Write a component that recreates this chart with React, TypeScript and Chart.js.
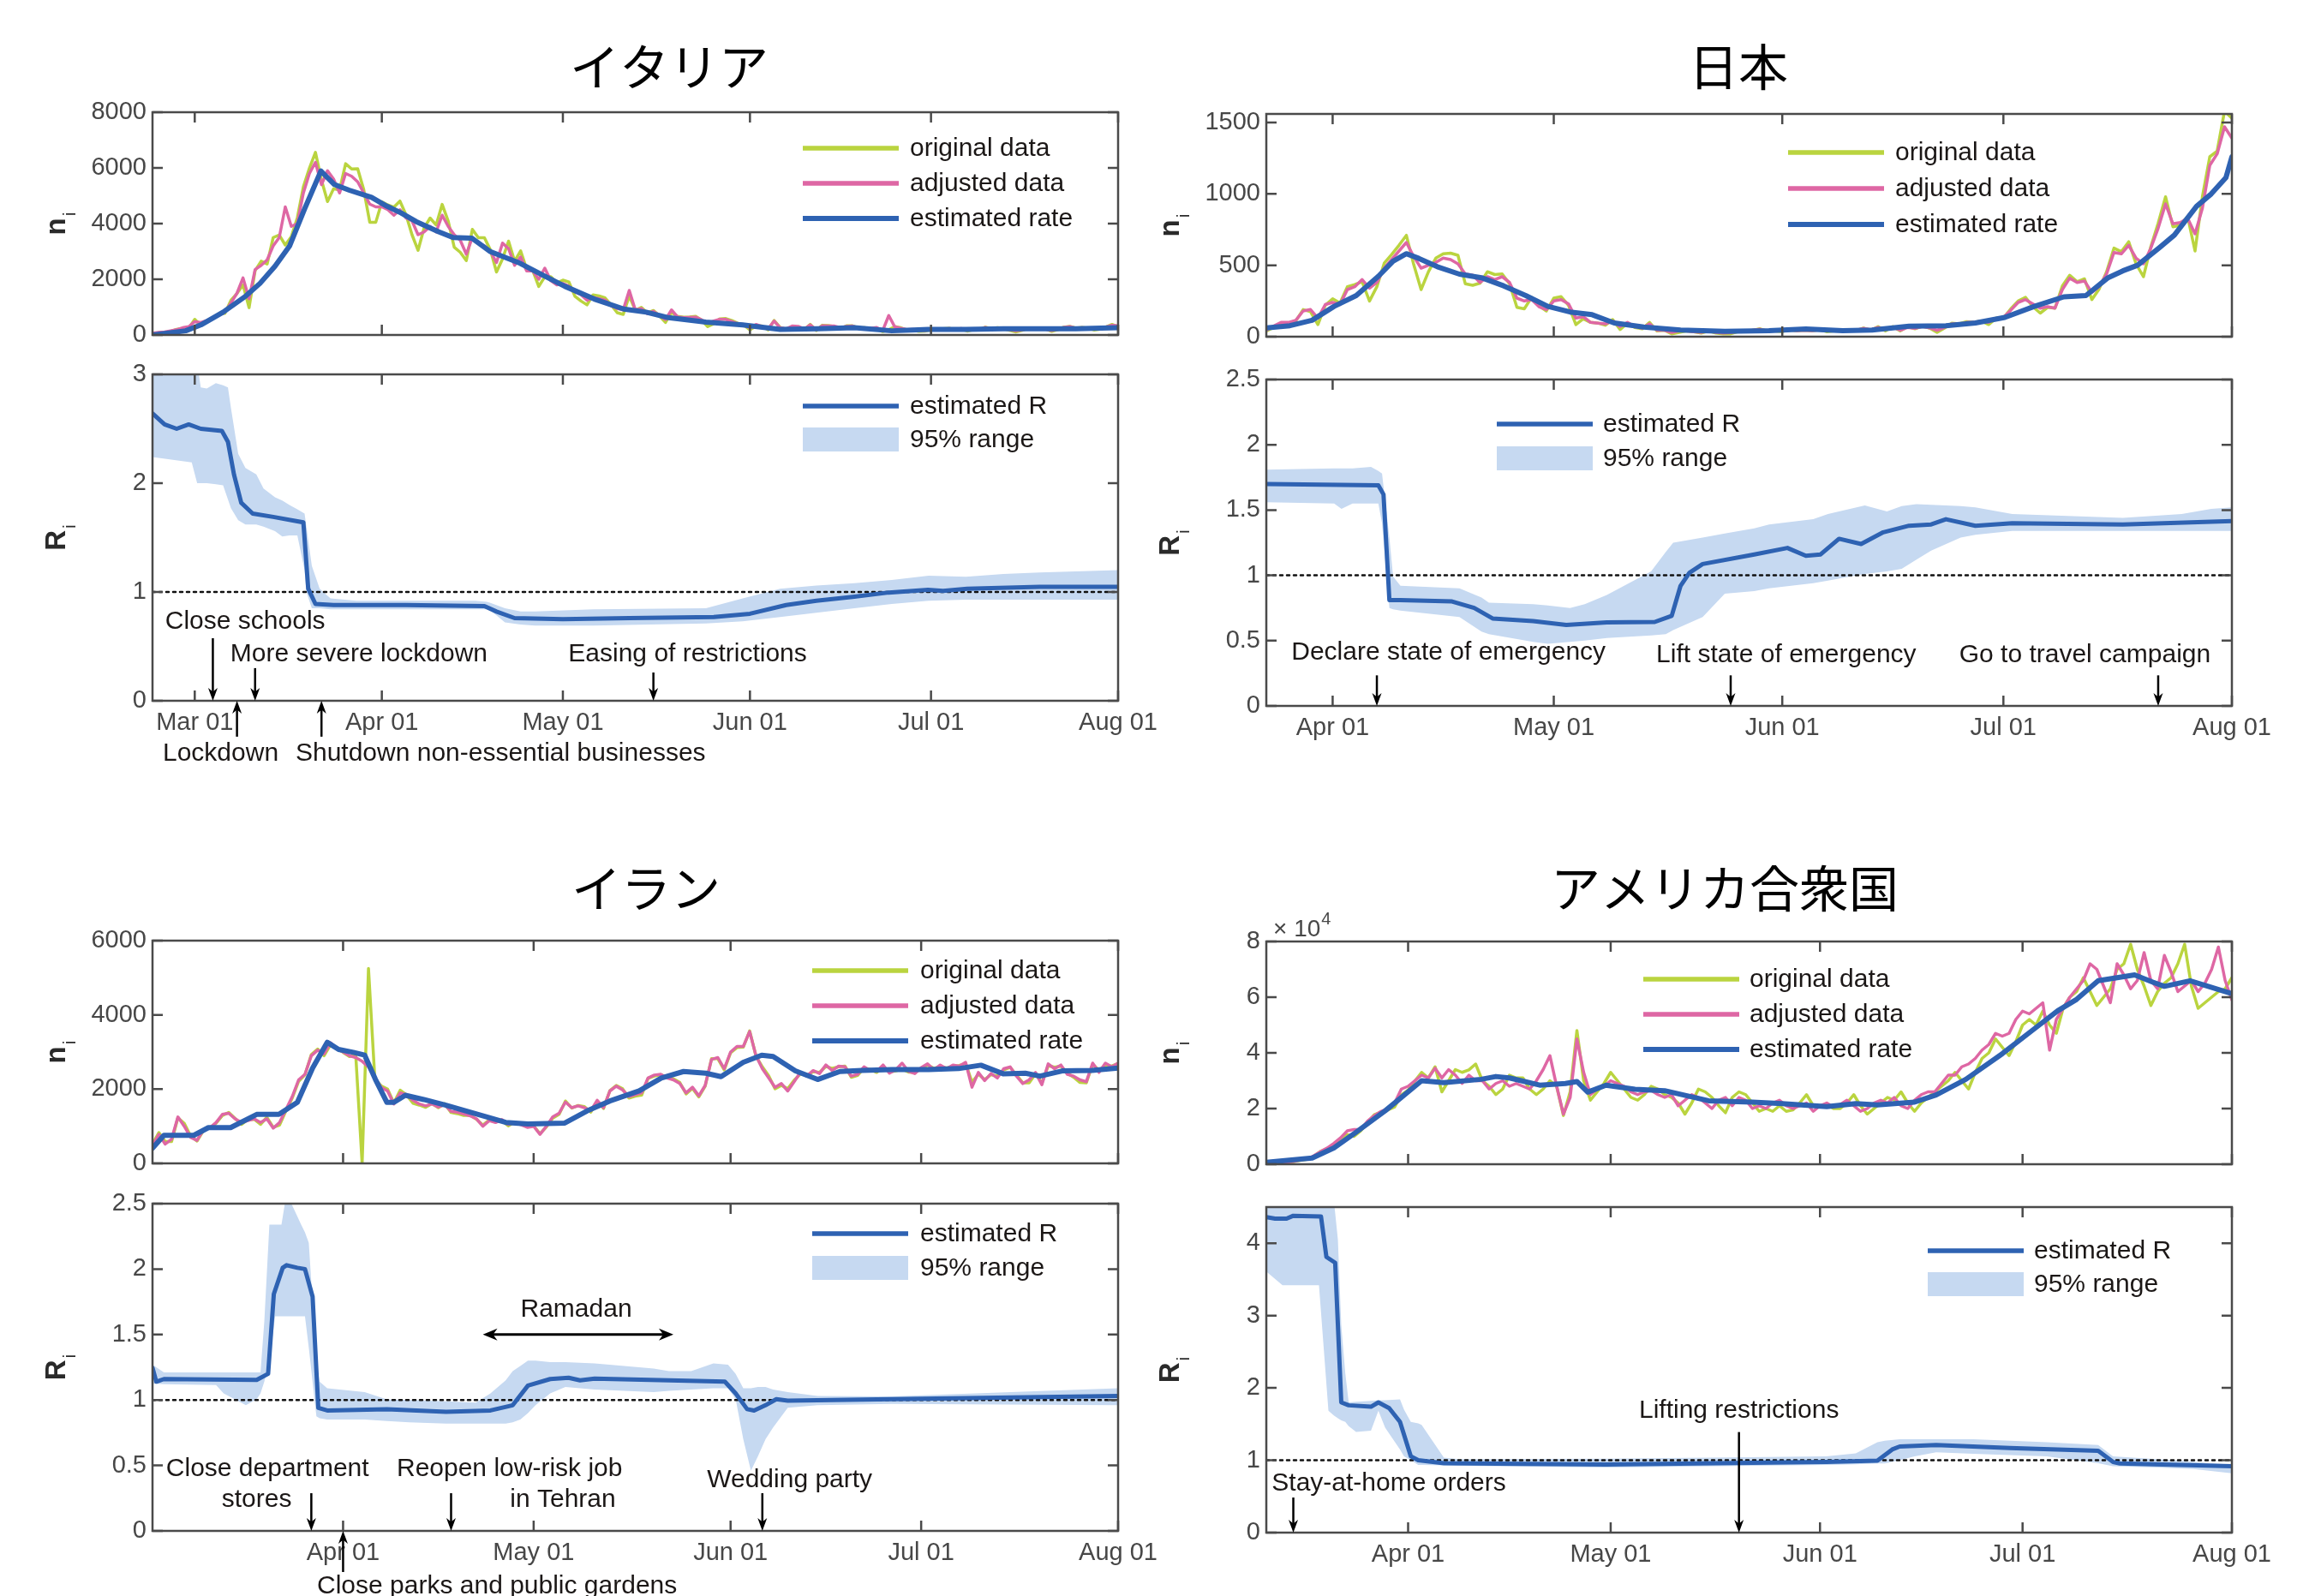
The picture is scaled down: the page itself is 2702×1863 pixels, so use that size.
import { useEffect, useRef } from "react";
import { Chart, registerables } from "chart.js";

Chart.register(...registerables);

const SANS = '"Liberation Sans", Arial, Helvetica, sans-serif';
const CJK = '"Noto Sans CJK JP", "Noto Sans CJK SC", sans-serif';
const GREEN = "#bad43f";
const PINK = "#de67a4";
const BLUE = "#2e62b2";
const BAND = "#c6d9f1";
const AXIS = "#4a4a4a";
const TEXT = "#1b1716";
const TICK_TEXT = "#474747";

// ---- x axis: days counted from 2020-03-01 ----
const MONTH_TICK_DAYS = [0, 31, 61, 92, 122, 153];
const MONTH_TICK_LABELS = ["Mar 01", "Apr 01", "May 01", "Jun 01", "Jul 01", "Aug 01"];

const SERIES_LABELS = ["original data", "adjusted data", "estimated rate"];
const R_LABELS = ["estimated R", "95% range"];

// ================= ITALY =================
const IT_START = -7;
const IT_ORIGINAL = [
  70, 80, 95, 125, 200, 240, 240,
  560, 340, 470, 590, 770, 780, 1250, 1490, 1800, 980, 2310, 2650, 2550, 3500, 3590, 3230, 3530, 4210, 5320, 5990, 6560, 5560, 4790, 5250, 5210, 6150, 5960, 5970, 5220, 4050, 4050,
  4780, 4670, 4590, 4810, 4320, 3600, 3040, 3840, 4200, 3950, 4690, 4090, 3150, 2970, 2670, 3790, 3490, 3490, 3050, 2260, 2730, 3370, 2650, 3020, 2360, 2320, 1740, 2090, 2090, 1870,
  1970, 1900, 1390, 1220, 1080, 1440, 1400, 1330, 1080, 800, 740, 1400, 890, 990, 790, 880, 680, 450, 810, 670, 640, 650, 670, 530, 300, 400, 580, 590, 520, 420, 360,
  180, 320, 320, 180, 520, 270, 200, 280, 280, 200, 380, 160, 350, 340, 300, 210, 330, 330, 250, 260, 220, 220, 120, 190, 300, 260, 180, 170, 130, 140,
  190, 200, 220, 240, 190, 210, 140, 190, 190, 280, 230, 260, 230, 170, 110, 160, 230, 230, 230, 220, 130, 190, 280, 310, 250, 270, 250, 180, 210, 290, 380,
  300,
];
const IT_ADJUSTED = [
  60, 90, 110, 150, 190, 260, 300,
  480, 450, 520, 620, 720, 820, 1150, 1500, 2050, 1300, 2350, 2500, 2700, 3200, 3500, 4600, 3900, 4000, 5100, 5800, 6200, 5400, 5900, 5600, 5100, 5800, 5700, 5500, 5100, 4700, 4600,
  4600, 4500, 4300, 4500, 4200, 4100, 3600, 3700, 3900, 3700, 4300, 3900, 3600, 3400, 2900, 3500, 3300, 3200, 3000, 2600, 3300, 3100, 2500, 2800, 2300, 2300, 2000, 2400, 1950, 1800,
  1850, 1750, 1550, 1450, 1250, 1350, 1300, 1250, 1050, 950, 900, 1600, 900, 950, 760, 850, 700, 550, 900, 650, 620, 630, 640, 540, 420, 500, 560, 560, 480, 400, 380,
  250, 380, 300, 220, 500, 260, 220, 320, 310, 210, 360, 180, 330, 320, 320, 260, 310, 320, 240, 250, 240, 270, 160, 700, 290, 240, 190, 200, 170, 160,
  200, 190, 210, 230, 200, 230, 170, 200, 180, 270, 220, 250, 220, 190, 150, 180, 220, 220, 230, 210, 160, 210, 270, 300, 240, 260, 240, 210, 230, 290, 350,
  330,
];
const IT_RATE = [
  [-7, 0], [-1.5, 150], [1, 360], [4.7, 820], [8.4, 1390], [10.8, 1850], [13.3, 2470], [15.7, 3190], [18.2, 4530],
  [20.9, 5890], [23.1, 5410], [25.6, 5200], [29.3, 4940], [31.8, 4630], [34.2, 4380], [36.7, 4070], [40.4, 3710],
  [42.8, 3500], [45.9, 3480], [49, 2990], [53.9, 2575], [57.6, 2160], [61.3, 1750], [66.2, 1290], [71.1, 930],
  [74.8, 820], [78.5, 620], [84.7, 460], [90.8, 360], [97, 200], [103.2, 225], [109.3, 260], [115.5, 150],
  [121.6, 200], [127.8, 200], [134, 225], [146, 225], [153, 260],
];
const IT_R = [
  [-7, 2.64], [-5, 2.54], [-3, 2.5], [-1, 2.54], [1, 2.5], [4.5, 2.48], [5.5, 2.38], [6.5, 2.08], [7.7, 1.82],
  [9.6, 1.72], [13, 1.69], [17, 1.65], [18, 1.64], [18.8, 1.03], [20, 0.89], [23, 0.88], [35, 0.88], [48, 0.87],
  [50, 0.82], [53, 0.76], [61, 0.75], [72, 0.76], [86, 0.77], [92, 0.8], [98, 0.88], [103, 0.92], [109, 0.955],
  [115, 0.995], [121.5, 1.02], [124, 1.01], [128, 1.03], [140, 1.047], [153, 1.047],
];
// [day, lower, upper]
const IT_BAND = [
  [-7, 2.24, 3.3], [-0.5, 2.19, 3.3], [0.4, 2.0, 3.1], [1, 2.0, 2.88], [2, 2.0, 2.87], [3.5, 1.99, 2.92],
  [4.7, 1.98, 2.9], [5.5, 1.85, 2.88], [6, 1.77, 2.69], [7.2, 1.66, 2.27], [8.4, 1.62, 2.14], [10.2, 1.62, 2.08],
  [11.4, 1.6, 1.95], [13.3, 1.56, 1.87], [14.5, 1.51, 1.84], [15.7, 1.52, 1.8], [17, 1.52, 1.76], [18.2, 1.2, 1.72],
  [18.5, 1.0, 1.6], [19.4, 0.85, 1.24], [20.7, 0.85, 1.03], [22.5, 0.84, 0.94], [26.8, 0.84, 0.92], [46.5, 0.84, 0.92],
  [48.4, 0.84, 0.91], [49, 0.83, 0.9], [51.4, 0.72, 0.85], [54, 0.7, 0.82], [56.4, 0.69, 0.82], [66, 0.69, 0.84],
  [84.7, 0.71, 0.85], [90.8, 0.73, 0.94], [97, 0.77, 1.03], [103, 0.81, 1.06], [109.3, 0.85, 1.08], [115.5, 0.89, 1.11],
  [121.6, 0.92, 1.15], [127.8, 0.93, 1.14], [134, 0.93, 1.165], [140, 0.93, 1.18], [153, 0.93, 1.2],
];
const IT_EVENT_LABELS = ["Close schools", "More severe lockdown", "Easing of restrictions", "Lockdown", "Shutdown non-essential businesses"];
const IT_EVENT_DAYS = [3, 10, 76, 7, 21];

// ================= JAPAN =================
const JP_START = 22;
const JP_ORIGINAL = [
  40, 65, 95, 95, 110, 190, 175, 85, 220,
  265, 235, 350, 365, 385, 250, 350, 515, 575, 640, 710, 505, 330, 455, 550, 580, 585, 570, 370, 360, 375, 455, 435, 440, 370, 205, 195, 275, 215, 180,
  270, 280, 220, 85, 125, 100, 95, 80, 120, 50, 95, 65, 55, 100, 40, 45, 20, 30, 40, 35, 25, 40, 25, 20, 20, 35, 35, 45, 55, 40, 40,
  35, 50, 40, 45, 40, 50, 35, 40, 40, 40, 40, 60, 45, 70, 40, 70, 40, 70, 55, 75, 60, 30, 60, 95, 90, 105, 100, 110, 85, 130,
  130, 195, 250, 275, 210, 165, 205, 200, 355, 430, 385, 405, 260, 335, 455, 620, 595, 665, 510, 420, 630, 795, 980, 770, 780, 840, 600, 980, 1260, 1300, 1580,
  1530,
];
const JP_ADJUSTED = [
  45, 75, 100, 100, 115, 180, 190, 130, 225,
  240, 225, 330, 350, 400, 340, 380, 480, 540, 600, 660, 560, 480, 500, 520, 550, 540, 510, 440, 430, 380, 420, 400, 420, 380, 270, 250, 260, 210, 190,
  250, 260, 230, 130, 140, 100, 95, 90, 110, 70, 100, 70, 60, 90, 45, 45, 30, 40, 40, 35, 30, 40, 30, 25, 28, 38, 38, 45, 52, 40, 42,
  40, 50, 42, 45, 42, 48, 40, 45, 42, 40, 45, 58, 48, 65, 50, 68, 45, 65, 58, 72, 62, 45, 65, 90, 88, 100, 100, 108, 100, 128,
  135, 185, 240, 260, 230, 200, 210, 200, 330, 410, 380, 390, 310, 350, 440, 590, 580, 640, 550, 510, 620, 760, 930, 790, 800, 830, 720, 900, 1200, 1280, 1470,
  1390,
];
const JP_RATE = [
  [22, 62], [25.2, 77], [28.2, 115], [31.2, 212], [34.2, 288], [37.2, 423], [39.2, 529], [41, 581], [42.7, 548],
  [45.2, 490], [48.2, 438], [51.2, 413], [54.2, 356], [57.2, 288], [60.2, 212], [63.2, 173], [66.2, 154], [69.2, 96],
  [73.2, 67], [78.2, 46], [84.2, 38], [90.2, 42], [95.2, 54], [100.2, 42], [104.2, 46], [109.2, 73], [114.2, 77],
  [118.2, 96], [122.2, 135], [126.2, 212], [130.2, 279], [133.2, 288], [136.2, 413], [138.2, 461], [140.2, 500],
  [143.2, 625], [145.2, 712], [148.2, 913], [150.2, 1000], [152.2, 1115], [153, 1260],
];
const JP_R = [
  [22, 1.7], [37.2, 1.69], [37.9, 1.62], [38.7, 0.81], [40.2, 0.81], [47.2, 0.8], [50.2, 0.75], [52.7, 0.67],
  [58.2, 0.65], [62.7, 0.62], [68.2, 0.64], [74.7, 0.643], [77, 0.69], [78.2, 0.92], [79.4, 1.02], [81.2, 1.087],
  [88.2, 1.16], [92.7, 1.21], [95.2, 1.15], [97.2, 1.16], [99.7, 1.28], [102.7, 1.24], [105.7, 1.33], [109.2, 1.38],
  [112.2, 1.39], [114.2, 1.43], [118.2, 1.38], [123.2, 1.4], [138.2, 1.39], [153, 1.415],
];
const JP_BAND = [
  [22, 1.56, 1.81], [31.2, 1.55, 1.82], [32.2, 1.51, 1.82], [33.7, 1.55, 1.82], [36.2, 1.55, 1.83], [37.2, 1.55, 1.8],
  [37.7, 1.4, 1.78], [38.7, 0.75, 1.29], [39.2, 0.74, 0.99], [40.2, 0.73, 0.92], [48.2, 0.68, 0.9], [51.2, 0.57, 0.83],
  [52.2, 0.55, 0.79], [58.2, 0.49, 0.78], [60.2, 0.475, 0.77], [63.2, 0.49, 0.75], [65.2, 0.5, 0.78], [68.2, 0.52, 0.85],
  [74.2, 0.54, 1.03], [76.2, 0.55, 1.18], [77.2, 0.58, 1.25], [81.2, 0.68, 1.29], [84.2, 0.86, 1.32], [88.2, 0.88, 1.36],
  [90.2, 0.9, 1.39], [96.2, 0.94, 1.43], [98.2, 0.96, 1.47], [101.2, 0.99, 1.51], [103.2, 1.01, 1.535], [106.2, 1.03, 1.49],
  [108.2, 1.05, 1.53], [110.2, 1.12, 1.546], [112.2, 1.19, 1.54], [116.2, 1.29, 1.53], [118.2, 1.31, 1.52], [123.2, 1.34, 1.47],
  [138.2, 1.34, 1.44], [146.2, 1.34, 1.47], [150.2, 1.34, 1.51], [153, 1.34, 1.52],
];
const JP_EVENT_LABELS = ["Declare state of emergency", "Lift state of emergency", "Go to travel campaign"];
const JP_EVENT_DAYS = [37, 85, 143];

// ================= IRAN =================
const IR_START = 1;
const IR_ORIGINAL = [
  520, 830, 590, 590, 1230, 1080, 740, 600, 880, 960, 1080, 1290, 1370, 1210, 1050, 1180, 1190, 1050, 1240, 970, 1030, 1410, 1760, 2210, 2390, 2930, 3080, 2900, 3190, 3110,
  2990, 2880, 2900, 0, 5250, 2270, 2090, 2000, 1630, 1970, 1840, 1620, 1570, 1510, 1610, 1500, 1610, 1370, 1340, 1290, 1300, 1190, 1030, 1170, 1130, 1150, 1010, 1110, 1070, 990,
  1010, 800, 980, 1220, 1320, 1680, 1490, 1560, 1530, 1380, 1680, 1480, 1960, 2100, 2010, 1760, 1810, 1840, 2290, 2350, 2390, 2310, 2280, 2180, 1870, 2020, 1790, 2080, 2820, 2820, 2520,
  2980, 3120, 3130, 3570, 2890, 2600, 2360, 2010, 2100, 2010, 2240, 2410, 2370, 2470, 2450, 2610, 2560, 2600, 2620, 2320, 2370, 2570, 2530, 2450, 2600, 2460, 2490, 2540, 2460, 2450,
  2550, 2650, 2560, 2610, 2570, 2610, 2640, 2690, 2190, 2400, 2260, 2390, 2350, 2520, 2590, 2380, 2170, 2170, 2410, 2170, 2630, 2590, 2620, 2430, 2320, 2180, 2170, 2670, 2510, 2640, 2620,
  2690,
];
const IR_ADJUSTED = [
  480, 780, 520, 650, 1250, 1000, 700, 620, 900, 950, 1100, 1320, 1350, 1200, 1100, 1150, 1200, 1100, 1200, 950, 1100, 1450, 1800, 2250, 2400, 2900, 3050, 2950, 3250, 3100,
  3000, 2900, 2850, 2750, 2600, 2300, 2050, 1950, 1600, 1900, 1850, 1700, 1600, 1550, 1600, 1520, 1580, 1400, 1380, 1330, 1280, 1200, 1000, 1150, 1100, 1180, 1050, 1100, 1040, 970,
  1000, 780, 1000, 1250, 1350, 1650, 1500, 1550, 1500, 1420, 1700, 1500, 1950, 2080, 1980, 1800, 1850, 1900, 2300, 2380, 2400, 2300, 2250, 2150, 1900, 2050, 1820, 2100, 2800, 2850, 2550,
  3000, 3150, 3150, 3550, 2900, 2550, 2300, 2050, 2150, 1950, 2200, 2450, 2350, 2500, 2420, 2650, 2500, 2620, 2600, 2350, 2400, 2600, 2500, 2480, 2650, 2430, 2520, 2700, 2480, 2420,
  2580, 2680, 2520, 2650, 2550, 2650, 2620, 2720, 2050, 2450, 2230, 2420, 2300, 2550, 2600, 2350, 2150, 2250, 2450, 2120, 2680, 2550, 2650, 2400, 2350, 2250, 2200, 2700, 2450, 2700, 2600,
  2700,
];
const IR_RATE = [
  [1, 409], [2.8, 756], [7.5, 756], [9.8, 964], [13.3, 964], [17.4, 1319], [20.9, 1319], [23.8, 1643], [26.2, 2568],
  [28.5, 3262], [30.3, 3069], [32.6, 2992], [34.4, 2915], [36.1, 2260], [37.9, 1643], [39, 1643], [40.8, 1835],
  [43.7, 1720], [47.2, 1565], [51.9, 1334], [56.6, 1103], [60.1, 1064], [65.9, 1087], [69.4, 1411], [73, 1681],
  [77.6, 1951], [81.1, 2298], [84.6, 2475], [88.1, 2429], [90.5, 2337], [94, 2722], [96.9, 2915], [98.7, 2877],
  [102.2, 2491], [105.7, 2260], [109.2, 2475], [112.7, 2506], [117.4, 2529], [123.2, 2529], [127.9, 2553],
  [131.4, 2645], [134.9, 2414], [138.4, 2429], [140.7, 2352], [144.2, 2491], [148.9, 2506], [153, 2568],
];
const IR_R = [
  [1, 1.245], [1.6, 1.14], [2.8, 1.16], [17.4, 1.154], [19.2, 1.2], [20.1, 1.81], [21.5, 2.01], [22.1, 2.03],
  [23.8, 2.01], [25, 2.0], [26.2, 1.79], [27.1, 0.94], [28.5, 0.92], [37.9, 0.93], [47.2, 0.91], [54.2, 0.92],
  [57.7, 0.96], [60.1, 1.11], [63.6, 1.16], [66.5, 1.17], [68.3, 1.15], [70.6, 1.163], [82.3, 1.15], [91.1, 1.14],
  [92.8, 1.05], [94.6, 0.93], [95.7, 0.92], [97.5, 0.96], [99.2, 1.006], [101, 0.995], [117.4, 1.006], [153, 1.03],
];
const IR_BAND = [
  [1, 1.125, 1.27], [2.8, 1.12, 1.21], [11, 1.115, 1.21], [12.2, 1.05, 1.21], [15.7, 0.96, 1.21], [17.4, 1.006, 1.21],
  [18, 1.05, 1.21], [18.6, 1.14, 1.6], [19.4, 1.3, 2.34], [20.3, 1.64, 2.34], [21.3, 1.64, 2.34], [22.1, 1.64, 2.58],
  [24.4, 1.64, 2.34], [25, 1.64, 2.28], [25.6, 1.4, 2.2], [26.8, 0.875, 1.3], [27.3, 0.86, 1.14], [28.5, 0.85, 1.09],
  [34.4, 0.85, 1.06], [37.9, 0.84, 1.005], [41.4, 0.83, 1.0], [47.2, 0.82, 0.99], [51.9, 0.82, 0.98], [54.2, 0.82, 1.05],
  [56.6, 0.82, 1.15], [57.7, 0.83, 1.22], [58.9, 0.85, 1.26], [60.1, 0.9, 1.3], [61.3, 0.96, 1.3], [63.6, 1.05, 1.29],
  [66, 1.1, 1.29], [70.6, 1.08, 1.28], [79.9, 1.06, 1.24], [82.3, 1.07, 1.22], [85.8, 1.08, 1.22], [89.3, 1.09, 1.28],
  [91.6, 1.09, 1.27], [92.8, 1.006, 1.2], [94, 0.7, 1.09], [95.2, 0.46, 1.09], [96.3, 0.57, 1.1], [97.5, 0.7, 1.1],
  [98.7, 0.79, 1.08], [101, 0.94, 1.06], [105.7, 0.96, 1.03], [117.4, 0.97, 1.027], [153, 0.96, 1.09],
];
const IR_EVENT_LABELS = [["Close department", "stores"], ["Reopen low-risk job", "in Tehran"], ["Wedding party"], ["Close parks and public gardens"], ["Ramadan"]];
const IR_EVENT_DAYS = [26, 48, 97, 31];
const IR_RAMADAN = [53, 83];

// ================= USA =================
const US_START = 10;
const US_ORIGINAL = [
  450, 500, 700, 650, 900, 1400, 1800, 2800, 4600, 5600, 6900, 9200, 10600, 10000, 12000, 15000, 17800, 18700, 19500, 20600, 24900,
  26600, 29900, 33000, 31000, 35000, 26000, 30000, 34000, 33000, 33900, 36000, 30000, 28000, 25000, 27000, 32000, 31000, 31000, 27000, 25000, 27000, 30000, 28000, 17500, 26000, 48000, 30000, 23000, 26000, 29000,
  33000, 30000, 27000, 24000, 23000, 25000, 28000, 27000, 25000, 24000, 22000, 18000, 22000, 27000, 26000, 24000, 21000, 18500, 24000, 26000, 25000, 22000, 19000, 20000, 19000, 21000, 19000, 19500, 22000, 25000, 21000,
  21000, 21500, 20000, 20000, 22000, 25000, 21000, 18000, 20000, 22000, 24000, 23000, 26000, 22000, 19000, 22000, 24000, 26000, 28000, 30000, 33000, 30000, 27000, 33000, 38000, 40000, 45000, 42000, 39000, 44000,
  50000, 52000, 50000, 55000, 50000, 47000, 56000, 60000, 62000, 67000, 62000, 57000, 60000, 63000, 70000, 72000, 79000, 70000, 64000, 57000, 62000, 65000, 67000, 72000, 79000, 64000, 56000, 58000, 60000, 62000, 63000,
  67000,
];
const US_ADJUSTED = [
  400, 550, 750, 800, 1000, 1500, 2000, 3000, 4500, 5800, 7500, 9500, 12000, 12500, 12500, 15500, 17500, 19000, 20000, 22000, 27000,
  28000, 30000, 32000, 31000, 34500, 31000, 34000, 32000, 29000, 32000, 30000, 30000, 27000, 29000, 30000, 28000, 29000, 28000, 27000, 30000, 34000, 39000, 28000, 18000, 24000, 45000, 33000, 25000, 27000, 28000,
  30000, 29000, 28000, 26000, 25000, 26000, 26500, 25000, 24000, 25000, 21000, 23000, 25000, 24000, 22000, 20000, 23000, 24000, 21000, 24000, 23000, 20000, 21000, 20000, 22000, 23000, 21000, 20000, 21000, 22000, 19000,
  21000, 22000, 20500, 21500, 23000, 21000, 19000, 20000, 22000, 23000, 22000, 24000, 21000, 20000, 23000, 25000, 26000, 26000, 29000, 32000, 32000, 35000, 36000, 38000, 41000, 43000, 47000, 46000, 47000, 52000,
  55000, 54000, 56000, 58000, 41000, 52000, 56000, 60000, 63000, 66000, 72000, 70000, 64000, 58000, 72000, 68000, 63000, 66000, 76000, 66000, 63000, 75000, 69000, 62000, 64000, 66000, 62000, 65000, 70000, 78000, 66000,
  59000,
];
const US_RATE = [
  [10, 700], [16.8, 2260], [20, 5850], [23.3, 11500], [27.6, 19200], [33, 30000], [36.3, 29300], [41.8, 30500],
  [44, 31500], [46, 31000], [50.5, 28400], [54.3, 29000], [56, 29700], [57.6, 25900], [60.3, 28400], [64.6, 26900],
  [69, 26400], [75.5, 22800], [82, 22300], [86.4, 21800], [93, 20700], [97.3, 21800], [100.5, 21300], [106, 22300],
  [109.2, 24900], [113.6, 30500], [119, 39700], [123.4, 48000], [127.2, 55100], [130, 59200], [133.2, 65900],
  [138.6, 68000], [141.3, 65400], [143, 63900], [146.8, 65900], [149.5, 63900], [153, 61300],
];
const US_R = [
  [10, 4.36], [11.3, 4.34], [13, 4.34], [14, 4.38], [18.1, 4.37], [18.9, 3.81], [20.2, 3.73], [21.1, 1.8],
  [22.2, 1.76], [25.5, 1.74], [26.6, 1.8], [28.2, 1.72], [29.8, 1.53], [31.4, 1.055], [32.5, 1.0], [36.3, 0.96],
  [60.3, 0.94], [92.9, 0.976], [100.5, 0.996], [102.7, 1.15], [103.8, 1.19], [109.2, 1.21], [120.1, 1.17],
  [133.2, 1.13], [135.4, 0.976], [136.4, 0.957], [153, 0.917],
];
const US_BAND = [
  [10, 3.61, 4.6], [12.4, 3.42, 4.6], [17.8, 3.42, 4.6], [19.2, 1.685, 4.6], [20, 1.62, 4.6], [20.6, 1.58, 4.05],
  [21.1, 1.55, 2.87], [21.7, 1.53, 2.2], [22.2, 1.47, 1.8], [23.3, 1.39, 1.81], [25.5, 1.41, 1.82], [26.6, 1.685, 1.83],
  [27.6, 1.45, 1.83], [29.8, 1.15, 1.84], [30.4, 1.055, 1.7], [31.4, 1.0, 1.53], [32.5, 0.937, 1.51], [33, 0.935, 1.49],
  [36.3, 0.93, 1.035], [38.5, 0.925, 1.016], [60.3, 0.9, 1.02], [92.9, 0.937, 1.055], [97.3, 0.945, 1.094],
  [100.5, 0.955, 1.25], [101.6, 0.957, 1.27], [103.8, 1.0, 1.29], [106, 1.055, 1.29], [109.2, 1.11, 1.29],
  [114.7, 1.09, 1.29], [125.6, 1.055, 1.25], [133.2, 0.96, 1.21], [135.4, 0.917, 1.055], [141.9, 0.9, 1.016],
  [147.3, 0.878, 0.98], [153, 0.82, 0.937],
];
const US_EVENT_LABELS = ["Stay-at-home orders", "Lifting restrictions"];
const US_EVENT_DAYS = [14, 80];

// ---- tick values ----
const IT_N_TICKS = [0, 2000, 4000, 6000, 8000];
const IT_R_TICKS = [0, 1, 2, 3];
const JP_N_TICKS = [0, 500, 1000, 1500];
const JP_R_TICKS = [0, 0.5, 1, 1.5, 2, 2.5];
const IR_N_TICKS = [0, 2000, 4000, 6000];
const IR_R_TICKS = [0, 0.5, 1, 1.5, 2, 2.5];
const US_N_TICKS = [0, 20000, 40000, 60000, 80000];
const US_R_TICKS = [0, 1, 2, 3, 4];

// ================= helpers =================
const seriesXY = (start, vals) => vals.map((v, i) => ({ x: start + i, y: v }));
const pairsXY = (pairs) => pairs.map(([x, y]) => ({ x, y }));

const PAD_TOP_N = { l: 140, r: 70, t: 90, b: 30 };

function nLegend(x, y, dy, textX) {
  return {
    x, y, dy, textX,
    items: [
      { label: SERIES_LABELS[0], color: GREEN, kind: "line", width: 5.5 },
      { label: SERIES_LABELS[1], color: PINK, kind: "line", width: 5.5 },
      { label: SERIES_LABELS[2], color: BLUE, kind: "line", width: 6 },
    ],
  };
}
function rLegend(x, y, dy, textX) {
  return {
    x, y, dy, textX,
    items: [
      { label: R_LABELS[0], color: BLUE, kind: "line", width: 5.5 },
      { label: R_LABELS[1], color: BAND, kind: "box", width: 0 },
    ],
  };
}

const SPECS = [
  // ---------- Italy ----------
  {
    key: "it-n", kind: "n", box: { L: 178, T: 131, R: 1305, B: 391 }, pad: PAD_TOP_N,
    xMin: -7, xMax: 153, showX: false, yMin: 0, yMax: 8000, yTicks: IT_N_TICKS, yFmt: (v) => String(v),
    series: { start: IT_START, original: IT_ORIGINAL, adjusted: IT_ADJUSTED, rate: IT_RATE },
    legend: nLegend(937, 173, 41, 1062), ylabel: "n",
    title: { text: "イタリア", x: 781, y: 78 },
  },
  {
    key: "it-r", kind: "R", box: { L: 178, T: 437, R: 1305, B: 818 }, pad: { l: 140, r: 70, t: 40, b: 95 },
    xMin: -7, xMax: 153, showX: true, yMin: 0, yMax: 3, yTicks: IT_R_TICKS, yFmt: (v) => String(v),
    series: { est: IT_R, band: IT_BAND },
    legend: rLegend(937, 474, 39, 1062), ylabel: "R",
    arrows: [
      { day: IT_EVENT_DAYS[0], from: 0.575, to: 0 },
      { day: IT_EVENT_DAYS[1], from: 0.3, to: 0 },
      { day: IT_EVENT_DAYS[2], from: 0.26, to: 0 },
      { day: IT_EVENT_DAYS[3], from: -0.33, to: 0 },
      { day: IT_EVENT_DAYS[4], from: -0.33, to: 0 },
    ],
    notes: [
      { text: IT_EVENT_LABELS[0], day: -4.9, val: 0.73, align: "left" },
      { text: IT_EVENT_LABELS[1], day: 5.9, val: 0.43, align: "left" },
      { text: IT_EVENT_LABELS[2], day: 61.9, val: 0.425, align: "left" },
      { text: IT_EVENT_LABELS[3], day: -5.3, val: -0.49, align: "left" },
      { text: IT_EVENT_LABELS[4], day: 16.7, val: -0.49, align: "left" },
    ],
  },
  // ---------- Japan ----------
  {
    key: "jp-n", kind: "n", box: { L: 1478, T: 133, R: 2605, B: 393 }, pad: PAD_TOP_N,
    xMin: 22, xMax: 153, showX: false, yMin: 0, yMax: 1560, yTicks: JP_N_TICKS, yFmt: (v) => String(v),
    series: { start: JP_START, original: JP_ORIGINAL, adjusted: JP_ADJUSTED, rate: JP_RATE },
    legend: nLegend(2087, 178, 42, 2212), ylabel: "n",
    title: { text: "日本", x: 2029, y: 78 },
  },
  {
    key: "jp-r", kind: "R", box: { L: 1478, T: 443, R: 2605, B: 824 }, pad: { l: 140, r: 70, t: 40, b: 95 },
    xMin: 22, xMax: 153, showX: true, yMin: 0, yMax: 2.5, yTicks: JP_R_TICKS, yFmt: (v) => String(v),
    series: { est: JP_R, band: JP_BAND },
    legend: rLegend(1747, 495, 40, 1871), ylabel: "R",
    arrows: [
      { day: JP_EVENT_DAYS[0], from: 0.234, to: 0 },
      { day: JP_EVENT_DAYS[1], from: 0.234, to: 0 },
      { day: JP_EVENT_DAYS[2], from: 0.234, to: 0 },
    ],
    notes: [
      { text: JP_EVENT_LABELS[0], day: 25.4, val: 0.41, align: "left" },
      { text: JP_EVENT_LABELS[1], day: 74.9, val: 0.39, align: "left" },
      { text: JP_EVENT_LABELS[2], day: 116, val: 0.39, align: "left" },
    ],
  },
  // ---------- Iran ----------
  {
    key: "ir-n", kind: "n", box: { L: 178, T: 1098, R: 1305, B: 1358 }, pad: PAD_TOP_N,
    xMin: 1, xMax: 153, showX: false, yMin: 0, yMax: 6000, yTicks: IR_N_TICKS, yFmt: (v) => String(v),
    series: { start: IR_START, original: IR_ORIGINAL, adjusted: IR_ADJUSTED, rate: IR_RATE },
    legend: nLegend(948, 1133, 41, 1074), ylabel: "n",
    title: { text: "イラン", x: 754, y: 1037 },
  },
  {
    key: "ir-r", kind: "R", box: { L: 178, T: 1405, R: 1305, B: 1787 }, pad: { l: 140, r: 70, t: 40, b: 76 },
    xMin: 1, xMax: 153, showX: true, yMin: 0, yMax: 2.5, yTicks: IR_R_TICKS, yFmt: (v) => String(v),
    series: { est: IR_R, band: IR_BAND },
    legend: rLegend(948, 1440, 40, 1074), ylabel: "R",
    arrows: [
      { day: IR_EVENT_DAYS[0], from: 0.288, to: 0 },
      { day: IR_EVENT_DAYS[1], from: 0.288, to: 0 },
      { day: IR_EVENT_DAYS[2], from: 0.288, to: 0 },
      { day: IR_EVENT_DAYS[3], from: -0.314, to: 0 },
    ],
    spans: [{ from: IR_RAMADAN[0], to: IR_RAMADAN[1], val: 1.5 }],
    notes: [
      { text: IR_EVENT_LABELS[0][0], day: 19.1, val: 0.474, align: "center" },
      { text: IR_EVENT_LABELS[0][1], day: 17.4, val: 0.236, align: "center" },
      { text: IR_EVENT_LABELS[1][0], day: 57.2, val: 0.474, align: "center" },
      { text: IR_EVENT_LABELS[1][1], day: 65.6, val: 0.236, align: "center" },
      { text: IR_EVENT_LABELS[2][0], day: 101.3, val: 0.386, align: "center" },
      { text: IR_EVENT_LABELS[3][0], day: 26.9, val: -0.425, align: "left" },
      { text: IR_EVENT_LABELS[4][0], day: 67.7, val: 1.69, align: "center" },
    ],
  },
  // ---------- USA ----------
  {
    key: "us-n", kind: "n", box: { L: 1478, T: 1099, R: 2605, B: 1359 }, pad: PAD_TOP_N,
    xMin: 10, xMax: 153, showX: false, yMin: 0, yMax: 80000, yTicks: US_N_TICKS, yFmt: (v) => String(v / 10000),
    series: { start: US_START, original: US_ORIGINAL, adjusted: US_ADJUSTED, rate: US_RATE },
    legend: nLegend(1918, 1143, 41, 2042), ylabel: "n",
    title: { text: "アメリカ合衆国", x: 2013, y: 1037 },
    exponent: { x: 1486, y: 1093 },
  },
  {
    key: "us-r", kind: "R", box: { L: 1478, T: 1409, R: 2605, B: 1789 }, pad: { l: 140, r: 70, t: 40, b: 74 },
    xMin: 10, xMax: 153, showX: true, yMin: 0, yMax: 4.5, yTicks: US_R_TICKS, yFmt: (v) => String(v),
    series: { est: US_R, band: US_BAND },
    legend: rLegend(2250, 1460, 39, 2374), ylabel: "R",
    arrows: [
      { day: US_EVENT_DAYS[0], from: 0.485, to: 0 },
      { day: US_EVENT_DAYS[1], from: 1.39, to: 0 },
    ],
    notes: [
      { text: US_EVENT_LABELS[0], day: 10.8, val: 0.68, align: "left" },
      { text: US_EVENT_LABELS[1], day: 80, val: 1.685, align: "center" },
    ],
  },
];

function buildDatasets(spec) {
  if (spec.kind === "n") {
    const s = spec.series;
    return [
      { label: SERIES_LABELS[2], data: pairsXY(s.rate), borderColor: BLUE, borderWidth: 6, pointRadius: 0, fill: false },
      { label: SERIES_LABELS[1], data: seriesXY(s.start, s.adjusted), borderColor: PINK, borderWidth: 3.5, pointRadius: 0, fill: false },
      { label: SERIES_LABELS[0], data: seriesXY(s.start, s.original), borderColor: GREEN, borderWidth: 3.5, pointRadius: 0, fill: false },
    ];
  }
  const s = spec.series;
  return [
    { label: R_LABELS[0], data: pairsXY(s.est), borderColor: BLUE, borderWidth: 5, pointRadius: 0, fill: false },
    { label: "R = 1", data: [{ x: spec.xMin, y: 1 }, { x: spec.xMax, y: 1 }], borderColor: "#111", borderWidth: 2.5, borderDash: [3, 5], pointRadius: 0, fill: false },
    { label: R_LABELS[1], data: s.band.map(([d, , hi]) => ({ x: d, y: hi })), borderColor: "rgba(0,0,0,0)", borderWidth: 0, backgroundColor: BAND, pointRadius: 0, fill: "+1" },
    { label: "lower", data: s.band.map(([d, lo]) => ({ x: d, y: lo })), borderColor: "rgba(0,0,0,0)", borderWidth: 0, pointRadius: 0, fill: false },
  ];
}

function arrowHead(ctx, x, y, dx, dy, len, hw) {
  const bx = x - dx * len, by = y - dy * len;
  const nx = -dy, ny = dx;
  const mx = x - dx * len * 0.7, my = y - dy * len * 0.7;
  ctx.beginPath();
  ctx.moveTo(x, y);
  ctx.lineTo(bx + nx * hw, by + ny * hw);
  ctx.lineTo(mx, my);
  ctx.lineTo(bx - nx * hw, by - ny * hw);
  ctx.closePath();
  ctx.fill();
}

function overlay(spec) {
  return {
    id: "overlay",
    afterDraw(chart) {
      const ctx = chart.ctx;
      const a = chart.chartArea;
      const xs = chart.scales.x;
      const ys = chart.scales.y;
      const offX = a.left - spec.box.L;
      const offY = a.top - spec.box.T;
      const X = (d) => xs.getPixelForValue(d);
      const Y = (v) => ys.getPixelForValue(v);
      ctx.save();

      // frame and inward ticks
      ctx.strokeStyle = AXIS;
      ctx.lineWidth = 2.5;
      ctx.strokeRect(a.left, a.top, a.right - a.left, a.bottom - a.top);
      const TL = 12;
      ctx.beginPath();
      xs.ticks.forEach((t) => {
        const x = X(t.value);
        ctx.moveTo(x, a.bottom); ctx.lineTo(x, a.bottom - TL);
        ctx.moveTo(x, a.top); ctx.lineTo(x, a.top + TL);
      });
      ys.ticks.forEach((t) => {
        const y = Y(t.value);
        ctx.moveTo(a.left, y); ctx.lineTo(a.left + TL, y);
        ctx.moveTo(a.right, y); ctx.lineTo(a.right - TL, y);
      });
      ctx.stroke();

      // legend
      const lg = spec.legend;
      ctx.font = `30px ${SANS}`;
      ctx.textBaseline = "middle";
      ctx.textAlign = "left";
      lg.items.forEach((it, i) => {
        const y = lg.y + i * lg.dy + offY;
        const x0 = lg.x + offX;
        if (it.kind === "box") {
          ctx.fillStyle = it.color;
          ctx.fillRect(x0, y - 14, 112, 28);
        } else {
          ctx.strokeStyle = it.color;
          ctx.lineWidth = it.width;
          ctx.beginPath();
          ctx.moveTo(x0, y);
          ctx.lineTo(x0 + 112, y);
          ctx.stroke();
        }
        ctx.fillStyle = TEXT;
        ctx.fillText(it.label, lg.textX + offX, y + 1);
      });

      // annotation arrows
      ctx.strokeStyle = "#000";
      ctx.fillStyle = "#000";
      ctx.lineWidth = 2.5;
      (spec.arrows || []).forEach((ar) => {
        const x = X(ar.day);
        const y1 = Y(ar.from);
        const y2 = Y(ar.to);
        const dir = Math.sign(y2 - y1);
        ctx.beginPath();
        ctx.moveTo(x, y1);
        ctx.lineTo(x, y2 - dir * 8);
        ctx.stroke();
        arrowHead(ctx, x, y2, 0, dir, 15, 5.5);
      });
      (spec.spans || []).forEach((sp) => {
        const x1 = X(sp.from), x2 = X(sp.to), y = Y(sp.val);
        ctx.lineWidth = 3;
        ctx.beginPath();
        ctx.moveTo(x1 + 10, y);
        ctx.lineTo(x2 - 10, y);
        ctx.stroke();
        arrowHead(ctx, x1, y, -1, 0, 17, 7);
        arrowHead(ctx, x2, y, 1, 0, 17, 7);
      });
      ctx.font = `30px ${SANS}`;
      ctx.fillStyle = TEXT;
      ctx.textBaseline = "middle";
      (spec.notes || []).forEach((n) => {
        ctx.textAlign = n.align;
        ctx.fillText(n.text, X(n.day), Y(n.val));
      });

      // y label (rotated, with subscript i)
      ctx.save();
      ctx.translate(a.left - 113, (a.top + a.bottom) / 2);
      ctx.rotate(-Math.PI / 2);
      ctx.fillStyle = "#2a2a2a";
      ctx.textAlign = "left";
      ctx.textBaseline = "alphabetic";
      ctx.font = `bold 33px ${SANS}`;
      const wm = ctx.measureText(spec.ylabel).width;
      ctx.font = `21px ${SANS}`;
      const ws = ctx.measureText("i").width;
      const x0 = -(wm + ws + 2) / 2;
      ctx.font = `bold 33px ${SANS}`;
      ctx.fillText(spec.ylabel, x0, 11);
      ctx.font = `21px ${SANS}`;
      ctx.fillText("i", x0 + wm + 2, 23);
      ctx.restore();

      // exponent label
      if (spec.exponent) {
        ctx.fillStyle = TICK_TEXT;
        ctx.textAlign = "left";
        ctx.textBaseline = "alphabetic";
        ctx.font = `28px ${SANS}`;
        const ex = spec.exponent.x + offX, ey = spec.exponent.y + offY;
        ctx.fillText("× 10", ex, ey);
        const w = ctx.measureText("× 10").width;
        ctx.font = `20px ${SANS}`;
        ctx.fillText("4", ex + w + 1, ey - 14);
      }

      // title
      if (spec.title) {
        ctx.fillStyle = "#000";
        ctx.textAlign = "center";
        ctx.textBaseline = "middle";
        ctx.font = `58px ${CJK}`;
        ctx.fillText(spec.title.text, spec.title.x + offX, spec.title.y + offY);
      }
      ctx.restore();
    },
  };
}

function makeConfig(spec) {
  const ticksX = MONTH_TICK_DAYS.filter((d) => d >= spec.xMin && d <= spec.xMax);
  return {
    type: "line",
    data: { datasets: buildDatasets(spec) },
    options: {
      animation: false,
      responsive: false,
      maintainAspectRatio: false,
      devicePixelRatio: 1,
      events: [],
      layout: { padding: { top: spec.pad.t, right: spec.pad.r, left: 0, bottom: 0 } },
      plugins: { legend: { display: false }, tooltip: { enabled: false }, title: { display: false } },
      elements: { point: { radius: 0 }, line: { tension: 0, borderJoinStyle: "round", borderCapStyle: "round" } },
      scales: {
        x: {
          type: "linear",
          min: spec.xMin,
          max: spec.xMax,
          grid: { display: false, drawTicks: false },
          border: { display: false },
          afterFit: (s) => { s.height = spec.pad.b; },
          afterBuildTicks: (s) => { s.ticks = ticksX.map((v) => ({ value: v })); },
          ticks: {
            display: spec.showX,
            autoSkip: false,
            maxRotation: 0,
            minRotation: 0,
            padding: 9,
            color: TICK_TEXT,
            font: { family: SANS, size: 29 },
            callback: (v) => {
              const i = MONTH_TICK_DAYS.indexOf(v);
              return i >= 0 ? MONTH_TICK_LABELS[i] : "";
            },
          },
        },
        y: {
          type: "linear",
          min: spec.yMin,
          max: spec.yMax,
          grid: { display: false, drawTicks: false },
          border: { display: false },
          afterFit: (s) => { s.width = spec.pad.l; },
          afterBuildTicks: (s) => { s.ticks = spec.yTicks.map((v) => ({ value: v })); },
          ticks: {
            padding: 7,
            color: TICK_TEXT,
            font: { family: SANS, size: 29 },
            callback: (v) => spec.yFmt(v),
          },
        },
      },
    },
    plugins: [overlay(spec)],
  };
}

function Plot({ spec }) {
  const ref = useRef(null);
  const w = spec.box.R - spec.box.L + spec.pad.l + spec.pad.r;
  const h = spec.box.B - spec.box.T + spec.pad.t + spec.pad.b;
  useEffect(() => {
    const chart = new Chart(ref.current, makeConfig(spec));
    return () => chart.destroy();
  }, [spec]);
  return (
    <canvas
      ref={ref}
      width={w}
      height={h}
      style={{
        position: "absolute",
        left: spec.box.L - spec.pad.l,
        top: spec.box.T - spec.pad.t,
        width: w,
        height: h,
        display: "block",
      }}
    />
  );
}

export default function App() {
  return (
    <div
      style={{
        position: "absolute",
        left: 0,
        top: 0,
        width: 2702,
        height: 1863,
        overflow: "hidden",
        background: "#ffffff",
      }}
    >
      {SPECS.map((s) => (
        <Plot key={s.key} spec={s} />
      ))}
    </div>
  );
}
